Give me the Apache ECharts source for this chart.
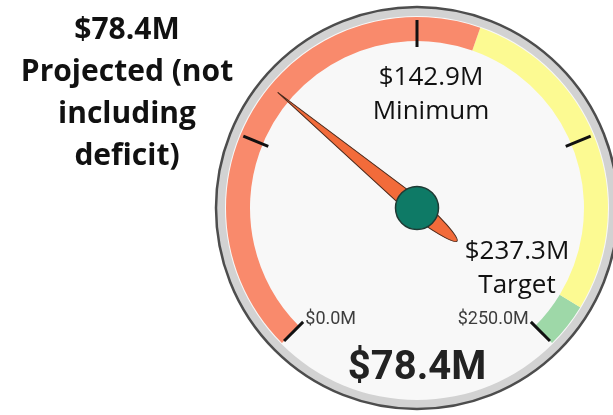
<!DOCTYPE html>
<html>
<head>
<meta charset="utf-8">
<script src="https://cdn.jsdelivr.net/npm/echarts@6/dist/echarts.min.js"></script>
<style>
html,body{margin:0;padding:0;background:#ffffff;}
#chart{width:613px;height:415px;}
</style>
</head>
<body>
<div id="chart"></div>
<script>
// ---- data ----
const projectedValue = [78.4];
const axisRange = [0, 250];
const markerValues = [142.9, 237.3];
const markerNames = ['Minimum', 'Target'];
const zoneEnds = [142.9, 237.3, 250];
const zoneColors = ['#F98A6C', '#FCFA92', '#9ED8A8'];
const tickLabels = ['$0.0M', '$250.0M'];
const headline = ['Projected (not', 'including', 'deficit)'];

const fmt = v => '$' + v.toFixed(1) + 'M';
const chart = echarts.init(document.getElementById('chart'), null, {renderer: 'canvas'});
const CENTER = [417, 208];

const axisColor = zoneEnds.map((e, i) => [(e - axisRange[0]) / (axisRange[1] - axisRange[0]), zoneColors[i]]);

chart.setOption({
  animation: false,
  backgroundColor: '#ffffff',
  series: [
    {
      type: 'pie', silent: true, center: CENTER, radius: [0, 201],
      label: {show: false}, labelLine: {show: false}, emphasis: {disabled: true},
      itemStyle: {color: '#d2d2d2', borderColor: '#4d4d4d', borderWidth: 2.5},
      data: [{value: 1}], z: 1
    },
    {
      type: 'pie', silent: true, center: CENTER, radius: [0, 192],
      label: {show: false}, labelLine: {show: false}, emphasis: {disabled: true},
      itemStyle: {color: '#f8f8f8'},
      data: [{value: 1}], z: 2
    },
    {
      type: 'gauge', z: 3,
      center: CENTER, radius: 191,
      startAngle: 225, endAngle: -45,
      min: axisRange[0], max: axisRange[1], splitNumber: 4,
      axisLine: {lineStyle: {width: 24, color: axisColor}},
      splitLine: {distance: -21, length: 27, lineStyle: {color: '#111', width: 3}},
      axisTick: {show: false},
      axisLabel: {
        distance: 27, color: '#3d3d3d', fontSize: 18, fontFamily: 'Roboto',
        formatter: v => v === axisRange[0] ? tickLabels[0] : (v === axisRange[1] ? tickLabels[1] : '')
      },
      pointer: {
        icon: 'path://M9 0 L18 181 C18 200 13.5 233 9 233 C4.5 233 0 200 0 181 Z',
        length: 233, width: 18, offsetCenter: [0, 52],
        itemStyle: {color: '#F26B3A', borderColor: '#4a2a1c', borderWidth: 1}
      },
      anchor: {
        show: true, showAbove: true, size: 43,
        itemStyle: {color: '#0E7A66', borderColor: '#1f3a34', borderWidth: 1.5}
      },
      title: {show: false},
      detail: {
        offsetCenter: [0, 161], fontSize: 40, fontWeight: 'bold', fontFamily: 'Roboto',
        color: '#222', formatter: v => fmt(v)
      },
      data: [{value: projectedValue[0], name: ''}]
    }
  ],
  graphic: [
    {
      type: 'text', x: 127, y: 9, z: 10,
      style: {
        text: [fmt(projectedValue[0])].concat(headline).join('\n'),
        font: 'bold 30px "Open Sans"', lineHeight: 42, align: 'center', verticalAlign: 'top', fill: '#111'
      }
    },
    {
      type: 'text', x: 431, y: 61, z: 10,
      style: {
        text: fmt(markerValues[0]) + '\n' + markerNames[0],
        font: '26px "Open Sans"', lineHeight: 34, align: 'center', verticalAlign: 'top', fill: '#111'
      }
    },
    {
      type: 'text', x: 517, y: 235, z: 10,
      style: {
        text: fmt(markerValues[1]) + '\n' + markerNames[1],
        font: '26px "Open Sans"', lineHeight: 34, align: 'center', verticalAlign: 'top', fill: '#111'
      }
    }
  ]
});
</script>
</body>
</html>
